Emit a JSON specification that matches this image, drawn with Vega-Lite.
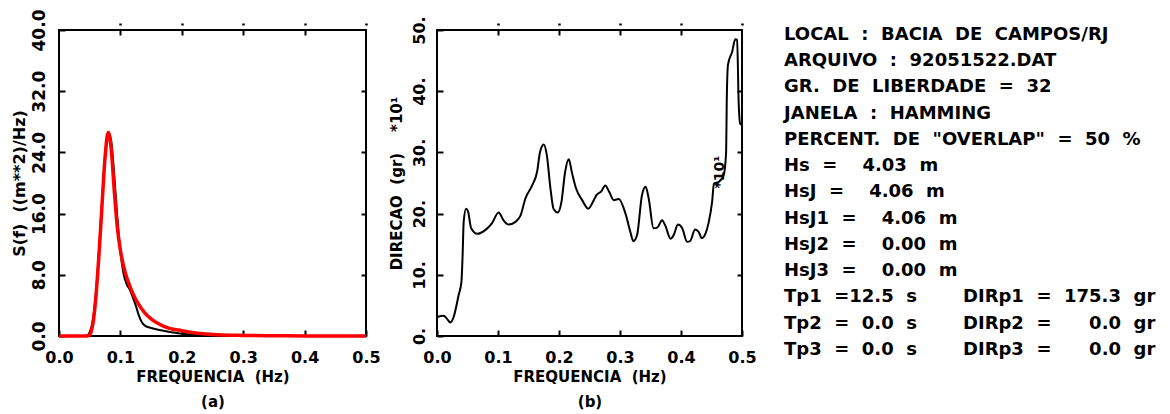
{
  "$schema": "https://vega.github.io/schema/vega-lite/v6.json",
  "background": "white",
  "padding": {"left": 9, "top": 8, "right": 0, "bottom": 2},
  "config": {
    "view": {"stroke": "black", "strokeWidth": 2},
    "font": "DejaVu Sans",
    "axis": {
      "labelFont": "DejaVu Sans", "labelFontWeight": "bold", "labelFontSize": 16, "labelColor": "black",
      "titleFont": "DejaVu Sans", "titleFontWeight": "bold", "titleColor": "black",
      "grid": false, "domain": false, "tickColor": "black", "tickWidth": 2,
      "labelFlush": false, "labelOverlap": false, "labelBound": false
    }
  },
  "datasets": {
    "medido": [
      {"f": 0.000, "S": 0}, {"f": 0.040, "S": 0}, {"f": 0.045, "S": 0.05}, {"f": 0.050, "S": 0.5},
      {"f": 0.055, "S": 2.0}, {"f": 0.060, "S": 5.5}, {"f": 0.065, "S": 11.0}, {"f": 0.070, "S": 17.5},
      {"f": 0.075, "S": 23.5}, {"f": 0.080, "S": 26.7}, {"f": 0.085, "S": 25.5}, {"f": 0.090, "S": 21.0},
      {"f": 0.095, "S": 15.5}, {"f": 0.100, "S": 11.0}, {"f": 0.105, "S": 8.2}, {"f": 0.110, "S": 6.8},
      {"f": 0.115, "S": 6.1}, {"f": 0.120, "S": 5.1}, {"f": 0.125, "S": 4.0}, {"f": 0.130, "S": 2.7},
      {"f": 0.135, "S": 1.8}, {"f": 0.140, "S": 1.35}, {"f": 0.150, "S": 1.05}, {"f": 0.160, "S": 0.85},
      {"f": 0.170, "S": 0.68}, {"f": 0.180, "S": 0.52}, {"f": 0.200, "S": 0.30}, {"f": 0.220, "S": 0.17},
      {"f": 0.250, "S": 0.08}, {"f": 0.300, "S": 0.03}, {"f": 0.350, "S": 0.01}, {"f": 0.400, "S": 0},
      {"f": 0.500, "S": 0}
    ],
    "ajustado": [
      {"f": 0.000, "S": 0}, {"f": 0.045, "S": 0}, {"f": 0.050, "S": 0.15}, {"f": 0.055, "S": 1.5},
      {"f": 0.060, "S": 5.0}, {"f": 0.065, "S": 10.5}, {"f": 0.070, "S": 17.0}, {"f": 0.075, "S": 23.3},
      {"f": 0.080, "S": 26.6}, {"f": 0.085, "S": 24.5}, {"f": 0.090, "S": 19.0}, {"f": 0.095, "S": 14.2},
      {"f": 0.100, "S": 11.2}, {"f": 0.105, "S": 9.2}, {"f": 0.110, "S": 7.7}, {"f": 0.115, "S": 6.6},
      {"f": 0.120, "S": 5.6}, {"f": 0.130, "S": 4.1}, {"f": 0.140, "S": 3.0}, {"f": 0.150, "S": 2.25},
      {"f": 0.160, "S": 1.7}, {"f": 0.170, "S": 1.3}, {"f": 0.180, "S": 1.0}, {"f": 0.200, "S": 0.7},
      {"f": 0.220, "S": 0.42}, {"f": 0.250, "S": 0.21}, {"f": 0.300, "S": 0.08}, {"f": 0.350, "S": 0.035},
      {"f": 0.400, "S": 0.015}, {"f": 0.500, "S": 0}
    ],
    "direcao": [
      {"f": 0.000, "dir": 31}, {"f": 0.011, "dir": 33}, {"f": 0.0164, "dir": 28}, {"f": 0.0219, "dir": 22},
      {"f": 0.0273, "dir": 31}, {"f": 0.0355, "dir": 67}, {"f": 0.040, "dir": 88}, {"f": 0.042, "dir": 132},
      {"f": 0.0437, "dir": 186}, {"f": 0.0475, "dir": 208}, {"f": 0.051, "dir": 203}, {"f": 0.056, "dir": 176},
      {"f": 0.066, "dir": 167}, {"f": 0.079, "dir": 173}, {"f": 0.090, "dir": 184}, {"f": 0.101, "dir": 202},
      {"f": 0.109, "dir": 189}, {"f": 0.1175, "dir": 182}, {"f": 0.128, "dir": 186}, {"f": 0.137, "dir": 197},
      {"f": 0.145, "dir": 225}, {"f": 0.156, "dir": 246}, {"f": 0.164, "dir": 268}, {"f": 0.169, "dir": 301},
      {"f": 0.175, "dir": 313}, {"f": 0.180, "dir": 296}, {"f": 0.186, "dir": 241}, {"f": 0.191, "dir": 208},
      {"f": 0.198, "dir": 202}, {"f": 0.204, "dir": 219}, {"f": 0.210, "dir": 268}, {"f": 0.216, "dir": 289},
      {"f": 0.221, "dir": 268}, {"f": 0.228, "dir": 241}, {"f": 0.238, "dir": 222}, {"f": 0.248, "dir": 208},
      {"f": 0.257, "dir": 222}, {"f": 0.262, "dir": 231}, {"f": 0.269, "dir": 236}, {"f": 0.276, "dir": 246},
      {"f": 0.282, "dir": 236}, {"f": 0.290, "dir": 222}, {"f": 0.298, "dir": 224}, {"f": 0.309, "dir": 200},
      {"f": 0.317, "dir": 170}, {"f": 0.322, "dir": 155}, {"f": 0.328, "dir": 165}, {"f": 0.336, "dir": 230},
      {"f": 0.342, "dir": 244}, {"f": 0.347, "dir": 225}, {"f": 0.355, "dir": 176}, {"f": 0.361, "dir": 177},
      {"f": 0.369, "dir": 189}, {"f": 0.374, "dir": 181}, {"f": 0.383, "dir": 159}, {"f": 0.388, "dir": 165},
      {"f": 0.395, "dir": 182}, {"f": 0.402, "dir": 176}, {"f": 0.410, "dir": 154}, {"f": 0.415, "dir": 155},
      {"f": 0.423, "dir": 174}, {"f": 0.429, "dir": 170}, {"f": 0.434, "dir": 160}, {"f": 0.440, "dir": 167},
      {"f": 0.445, "dir": 184}, {"f": 0.451, "dir": 219}, {"f": 0.454, "dir": 249}, {"f": 0.462, "dir": 252},
      {"f": 0.470, "dir": 263}, {"f": 0.474, "dir": 301}, {"f": 0.475, "dir": 383}, {"f": 0.477, "dir": 443},
      {"f": 0.484, "dir": 465}, {"f": 0.489, "dir": 485}, {"f": 0.492, "dir": 484}, {"f": 0.4945, "dir": 383},
      {"f": 0.497, "dir": 347}, {"f": 0.500, "dir": 345}
    ],
    "anotacao": [
      {"f": 0.464, "dir": 268, "rotulo": "*10¹"}
    ],
    "info": [
      {"linha": 1, "coluna": 1, "texto": "LOCAL \u00a0: \u00a0BACIA \u00a0DE \u00a0CAMPOS/RJ"},
      {"linha": 2, "coluna": 1, "texto": "ARQUIVO \u00a0: \u00a092051522.DAT"},
      {"linha": 3, "coluna": 1, "texto": "GR. \u00a0DE \u00a0LIBERDADE \u00a0= \u00a032"},
      {"linha": 4, "coluna": 1, "texto": "JANELA \u00a0: \u00a0HAMMING"},
      {"linha": 5, "coluna": 1, "texto": "PERCENT. \u00a0DE \u00a0\"OVERLAP\" \u00a0= \u00a050 \u00a0%"},
      {"linha": 6, "coluna": 1, "texto": "Hs \u00a0= \u00a0\u00a0\u00a04.03 \u00a0m"},
      {"linha": 7, "coluna": 1, "texto": "HsJ \u00a0= \u00a0\u00a0\u00a04.06 \u00a0m"},
      {"linha": 8, "coluna": 1, "texto": "HsJ1 \u00a0= \u00a0\u00a0\u00a04.06 \u00a0m"},
      {"linha": 9, "coluna": 1, "texto": "HsJ2 \u00a0= \u00a0\u00a0\u00a00.00 \u00a0m"},
      {"linha": 10, "coluna": 1, "texto": "HsJ3 \u00a0= \u00a0\u00a0\u00a00.00 \u00a0m"},
      {"linha": 11, "coluna": 1, "texto": "Tp1 \u00a0=12.5 \u00a0s"},
      {"linha": 12, "coluna": 1, "texto": "Tp2 \u00a0= \u00a00.0 \u00a0s"},
      {"linha": 13, "coluna": 1, "texto": "Tp3 \u00a0= \u00a00.0 \u00a0s"},
      {"linha": 11, "coluna": 2, "texto": "DIRp1 \u00a0= \u00a0175.3 \u00a0gr"},
      {"linha": 12, "coluna": 2, "texto": "DIRp2 \u00a0= \u00a0\u00a0\u00a0\u00a0\u00a00.0 \u00a0gr"},
      {"linha": 13, "coluna": 2, "texto": "DIRp3 \u00a0= \u00a0\u00a0\u00a0\u00a0\u00a00.0 \u00a0gr"}
    ]
  },
  "bounds": "flush",
  "spacing": 71,
  "hconcat": [
    {
      "width": 307, "height": 306,
      "resolve": {"axis": {"x": "independent", "y": "independent"}},
      "layer": [
        {
          "data": {"name": "medido"},
          "mark": {"type": "line", "color": "black", "strokeWidth": 2, "interpolate": "monotone"},
          "encoding": {
            "x": {"field": "f", "type": "quantitative", "scale": {"domain": [0, 0.5], "nice": false},
              "axis": {"orient": "bottom", "values": [0, 0.1, 0.2, 0.3, 0.4, 0.5], "format": ".1f", "tickSize": -6, "labelPadding": 19,
                "title": ["FREQUENCIA \u00a0(Hz)", "(a)"], "titleFontSize": 15, "titlePadding": 4, "titleLineHeight": 25}},
            "y": {"field": "S", "type": "quantitative", "scale": {"domain": [0, 40], "nice": false},
              "axis": {"orient": "left", "values": [0, 8, 16, 24, 32, 40], "format": ".1f", "tickSize": -6, "labelPadding": 17, "labelFontSize": 17,
                "labelAngle": 270, "labelAlign": "center", "labelBaseline": "bottom",
                "title": "S(f) \u00a0((m**2)/Hz)", "titleFontSize": 16, "titlePadding": 3}}
          }
        },
        {
          "data": {"name": "ajustado"},
          "mark": {"type": "line", "color": "#ff0000", "strokeWidth": 3.5, "interpolate": "monotone"},
          "encoding": {
            "x": {"field": "f", "type": "quantitative", "scale": {"domain": [0, 0.5], "nice": false},
              "axis": {"orient": "top", "values": [0.1, 0.2, 0.3, 0.4], "labels": false, "tickSize": -5, "title": null}},
            "y": {"field": "S", "type": "quantitative", "scale": {"domain": [0, 40], "nice": false},
              "axis": {"orient": "right", "values": [8, 16, 24, 32], "labels": false, "tickSize": -5, "title": null}}
          }
        },
        {
          "data": {"name": "medido"},
          "mark": {"type": "line", "color": "black", "opacity": 0},
          "encoding": {
            "x": {"field": "f", "type": "quantitative", "scale": {"domain": [0, 0.5], "nice": false},
              "axis": {"orient": "top", "values": [0.1, 0.2, 0.3, 0.4, 0.5], "labels": false, "tickSize": 2, "tickWidth": 2.5, "offset": 5, "title": null}},
            "y": {"field": "S", "type": "quantitative", "scale": {"domain": [0, 40], "nice": false}, "axis": null}
          }
        }
      ]
    },
    {
      "width": 305, "height": 306,
      "resolve": {"axis": {"x": "independent", "y": "independent"}},
      "layer": [
        {
          "data": {"name": "direcao"},
          "mark": {"type": "line", "color": "black", "strokeWidth": 2, "interpolate": "monotone"},
          "encoding": {
            "x": {"field": "f", "type": "quantitative", "scale": {"domain": [0, 0.5], "nice": false},
              "axis": {"orient": "bottom", "values": [0, 0.1, 0.2, 0.3, 0.4, 0.5], "format": ".1f", "tickSize": -6, "labelPadding": 19,
                "title": ["FREQUENCIA \u00a0(Hz)", "(b)"], "titleFontSize": 15, "titlePadding": 4, "titleLineHeight": 25}},
            "y": {"field": "dir", "type": "quantitative", "scale": {"domain": [0, 500], "nice": false},
              "axis": {"orient": "left", "values": [0, 100, 200, 300, 400, 500], "labelExpr": "format(datum.value / 10, 'd') + '.'", "tickSize": -6, "labelPadding": 16,
                "labelAngle": 270, "labelAlign": "center", "labelBaseline": "bottom",
                "title": "DIRECAO \u00a0(gr) \u00a0\u00a0\u00a0*10¹", "titleFontSize": 15, "titlePadding": 7}}
          }
        },
        {
          "data": {"name": "anotacao"},
          "mark": {"type": "text", "angle": 270, "fontSize": 14, "fontWeight": "bold", "font": "DejaVu Sans", "color": "black", "align": "center", "baseline": "middle"},
          "encoding": {
            "x": {"field": "f", "type": "quantitative", "scale": {"domain": [0, 0.5], "nice": false},
              "axis": {"orient": "top", "values": [0.1, 0.2, 0.3, 0.4], "labels": false, "tickSize": -5, "title": null}},
            "y": {"field": "dir", "type": "quantitative", "scale": {"domain": [0, 500], "nice": false},
              "axis": {"orient": "right", "values": [100, 200, 300, 400], "labels": false, "tickSize": -5, "title": null}},
            "text": {"field": "rotulo"}
          }
        },
        {
          "data": {"name": "direcao"},
          "mark": {"type": "line", "color": "black", "opacity": 0},
          "encoding": {
            "x": {"field": "f", "type": "quantitative", "scale": {"domain": [0, 0.5], "nice": false},
              "axis": {"orient": "top", "values": [0.1, 0.2, 0.3, 0.4, 0.5], "labels": false, "tickSize": 2, "tickWidth": 2.5, "offset": 5, "title": null}},
            "y": {"field": "dir", "type": "quantitative", "scale": {"domain": [0, 500], "nice": false}, "axis": null}
          }
        }
      ]
    },
    {
      "width": 356, "height": 306,
      "view": {"stroke": null},
      "data": {"name": "info"},
      "mark": {"type": "text", "align": "left", "baseline": "middle", "fontSize": 18, "fontWeight": "bold", "font": "DejaVu Sans", "color": "black"},
      "encoding": {
        "x": {"field": "coluna", "type": "quantitative", "scale": {"domain": [1.162, 3.151], "nice": false, "zero": false}, "axis": null},
        "y": {"field": "linha", "type": "quantitative", "scale": {"domain": [0.81, 12.467], "reverse": true, "nice": false, "zero": false}, "axis": null},
        "text": {"field": "texto"}
      }
    }
  ]
}
